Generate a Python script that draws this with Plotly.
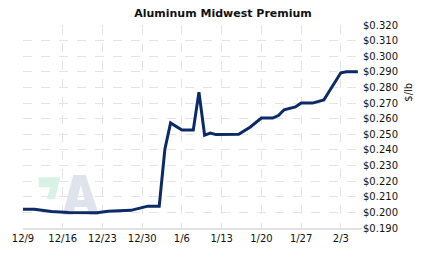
import plotly.graph_objects as go

# ---- data ----
dates = [
    "2024-12-09", "2024-12-11", "2024-12-14", "2024-12-17", "2024-12-22",
    "2024-12-24", "2024-12-28", "2024-12-30", "2024-12-31", "2025-01-02",
    "2025-01-03", "2025-01-04", "2025-01-06", "2025-01-08", "2025-01-09",
    "2025-01-10", "2025-01-11", "2025-01-12", "2025-01-16", "2025-01-18",
    "2025-01-20", "2025-01-22", "2025-01-23", "2025-01-24", "2025-01-26",
    "2025-01-27", "2025-01-29", "2025-01-31", "2025-02-03", "2025-02-04",
    "2025-02-06",
]
prices = [
    0.2020, 0.2020, 0.2005, 0.2000, 0.1998,
    0.2008, 0.2013, 0.2030, 0.2040, 0.2040,
    0.2405, 0.2573, 0.2527, 0.2527, 0.2770,
    0.2495, 0.2508, 0.2498, 0.2500, 0.2545,
    0.2604, 0.2604, 0.2620, 0.2657, 0.2675,
    0.2700, 0.2700, 0.2720, 0.2894, 0.2900,
    0.2900,
]
tick_dates = ["2024-12-09", "2024-12-16", "2024-12-23", "2024-12-30",
              "2025-01-06", "2025-01-13", "2025-01-20", "2025-01-27", "2025-02-03"]
tick_labels = ["12/9", "12/16", "12/23", "12/30", "1/6", "1/13", "1/20", "1/27", "2/3"]
y_ticks = [0.19 + 0.01 * i for i in range(14)]
y_labels = ["$%.3f" % v for v in y_ticks]

title = "Aluminum Midwest Premium"
y_title = "$/lb"

W, H = 423, 257
L, R, T, B = 21, 61, 25, 29
pw, ph = W - L - R, H - T - B


def px(x, y):
    return (x - L) / pw, (H - B - y) / ph


def path(points_list):
    s = ""
    for pts in points_list:
        for i, (x, y) in enumerate(pts):
            xp, yp = px(x, y)
            s += ("M" if i == 0 else "L") + f"{xp:.4f},{yp:.4f} "
        s += "Z "
    return s


green_pts = [[(36.7, 177.3), (58.3, 177.3), (53.3, 199.3), (45.0, 199.3), (48.3, 187.3), (36.7, 187.3)]]
a_pts = [
    [(61.0, 215), (71.5, 175), (84.0, 175), (97.5, 215), (88.0, 215), (85.5, 207),
     (73.5, 207), (71.0, 215)],
    [(75.5, 200), (83.0, 200), (79.2, 185)],
]

fig = go.Figure()
fig.add_trace(go.Scatter(
    x=dates, y=prices, mode="lines",
    line=dict(color="#0b2a67", width=3),
    hoverinfo="skip",
))

font = dict(family="DejaVu Sans", size=10, color="#111111")

tx, ty = px(408, 92)
fig.update_layout(
    width=W, height=H,
    margin=dict(l=L, r=R, t=T, b=B),
    paper_bgcolor="white", plot_bgcolor="white",
    showlegend=False,
    title=dict(text="<b>%s</b>" % title, x=223 / W, xanchor="center",
               y=1 - 13 / H, yanchor="middle",
               font=dict(family="DejaVu Sans", size=11, color="#111111")),
    font=font,
    shapes=[
        dict(type="path", xref="paper", yref="paper", path=path(green_pts),
             fillcolor="#d8f3e6", line=dict(width=0), layer="below"),
        dict(type="path", xref="paper", yref="paper", path=path(a_pts),
             fillcolor="#dfe4ec", line=dict(width=0), layer="below",
             fillrule="evenodd"),
    ],
    annotations=[
        dict(text=y_title, xref="paper", yref="paper", x=tx, y=ty,
             xanchor="center", yanchor="middle", textangle=-90,
             showarrow=False, font=font),
    ],
)

fig.update_xaxes(
    type="date",
    range=["2024-12-09", "2025-02-06 17:30"],
    tickmode="array", tickvals=tick_dates, ticktext=tick_labels,
    showgrid=True, gridcolor="#e4e4e4", griddash="dash", gridwidth=1,
    showline=True, linecolor="#e2e2e2", linewidth=2,
    zeroline=False, ticks="", tickfont=font,
)
fig.update_yaxes(
    range=[0.19, 0.32], side="right",
    tickmode="array", tickvals=y_ticks, ticktext=y_labels,
    showgrid=True, gridcolor="#e4e4e4", griddash="dash", gridwidth=1,
    zeroline=False, ticks="", tickfont=font,
)

fig.write_html("out.html")
